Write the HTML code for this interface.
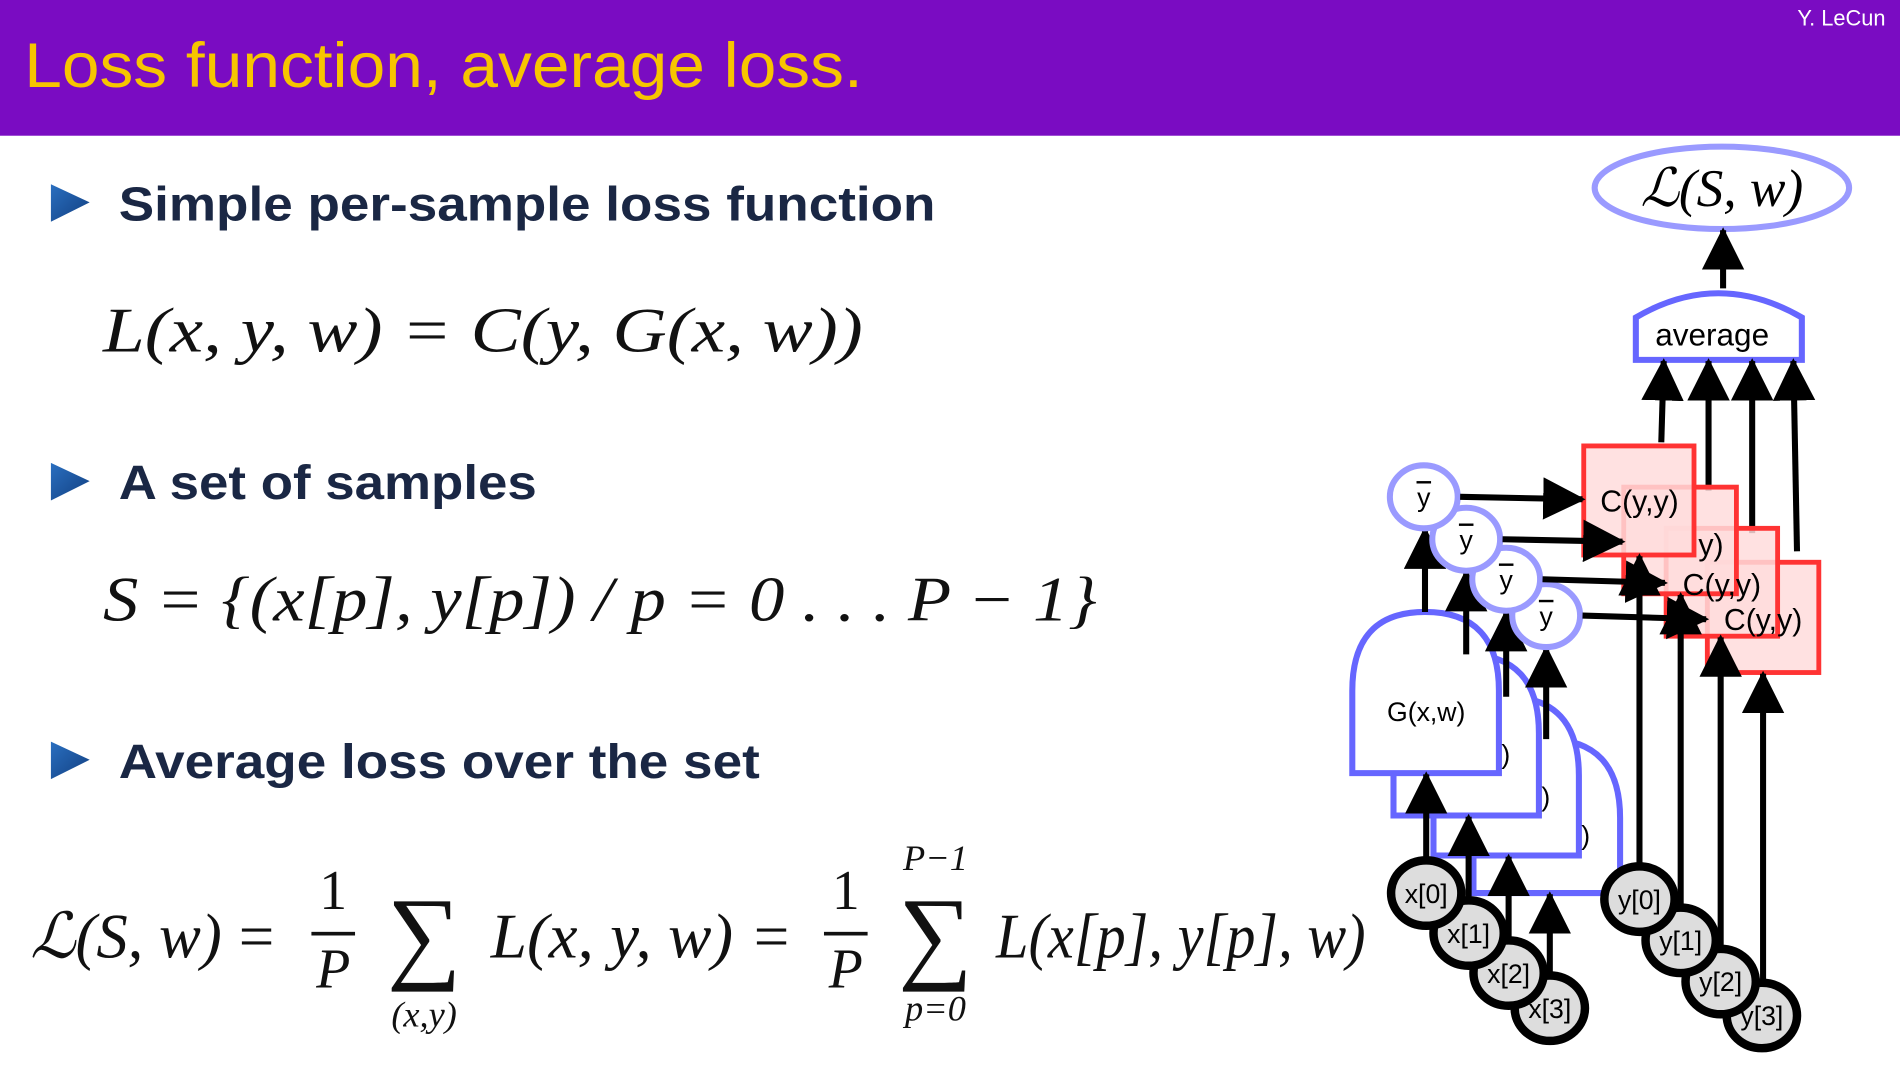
<!DOCTYPE html>
<html><head><meta charset="utf-8"><style>html,body{margin:0;padding:0;background:#fff}svg{display:block}</style></head>
<body>
<svg width="1900" height="1070" viewBox="0 0 1568 883" preserveAspectRatio="none" xmlns="http://www.w3.org/2000/svg">
<defs>
<marker id="ah" markerWidth="7" markerHeight="7" refX="6.5" refY="3.5" orient="auto" markerUnits="strokeWidth"><path d="M0,0 L7,3.5 L0,7 z" fill="#000"/></marker>
<linearGradient id="tg" x1="0" y1="0" x2="1" y2="1"><stop offset="0" stop-color="#2a6fc0"/><stop offset="1" stop-color="#123f80"/></linearGradient>
</defs>
<rect x="0" y="0" width="1568" height="112" fill="#7a0cc2"/>
<text x="20" y="72" font-family="Liberation Sans, sans-serif" font-size="52" fill="#f7c500" textLength="692" lengthAdjust="spacingAndGlyphs">Loss function, average loss.</text>
<text x="1556" y="21" text-anchor="end" font-family="Liberation Sans, sans-serif" font-size="18" fill="#fff">Y. LeCun</text>

<g font-family="Liberation Sans, sans-serif" font-weight="bold" font-size="40" fill="#1a2744">
<path d="M42,152 L74,167 L42,183 z" fill="url(#tg)"/>
<text x="98" y="182" textLength="674" lengthAdjust="spacingAndGlyphs">Simple per-sample loss function</text>
<path d="M42,382 L74,397 L42,413 z" fill="url(#tg)"/>
<text x="98" y="412" textLength="345" lengthAdjust="spacingAndGlyphs">A set of samples</text>
<path d="M42,612 L74,627 L42,643 z" fill="url(#tg)"/>
<text x="98" y="642" textLength="529" lengthAdjust="spacingAndGlyphs">Average loss over the set</text>
</g>

<g font-family="Liberation Serif, DejaVu Serif, serif" font-style="italic" fill="#111">
<text x="85" y="290" font-size="52" textLength="627" lengthAdjust="spacingAndGlyphs">L(x, y, w) = C(y, G(x, w))</text>
<text x="85" y="512" font-size="52" textLength="820" lengthAdjust="spacingAndGlyphs">S = {(x[p], y[p]) / p = 0 . . . P − 1}</text>
<text x="25" y="790" font-size="52" textLength="158" lengthAdjust="spacingAndGlyphs">ℒ(S, w)</text>
<text x="197" y="790" font-size="52" font-style="normal">=</text>
<text x="275" y="750" font-size="46" text-anchor="middle" font-style="normal">1</text>
<rect x="257" y="769" width="36" height="3"/>
<text x="275" y="815" font-size="46" text-anchor="middle">P</text>
<text x="350" y="800" font-size="86" text-anchor="middle" font-style="normal">∑</text>
<text x="350" y="847" font-size="30" text-anchor="middle">(x,y)</text>
<text x="405" y="790" font-size="52" textLength="200" lengthAdjust="spacingAndGlyphs">L(x, y, w)</text>
<text x="622" y="790" font-size="52" font-style="normal">=</text>
<text x="698" y="750" font-size="46" text-anchor="middle" font-style="normal">1</text>
<rect x="680" y="769" width="36" height="3"/>
<text x="698" y="815" font-size="46" text-anchor="middle">P</text>
<text x="772" y="800" font-size="86" text-anchor="middle" font-style="normal">∑</text>
<text x="772" y="718" font-size="30" text-anchor="middle">P−1</text>
<text x="772" y="842" font-size="30" text-anchor="middle">p=0</text>
<text x="822" y="790" font-size="52" textLength="305" lengthAdjust="spacingAndGlyphs">L(x[p], y[p], w)</text>
</g>

<!-- diagram -->
<g font-family="Liberation Sans, sans-serif" fill="#000">
<ellipse cx="1421" cy="155" rx="105" ry="34" fill="#fff" stroke="#9a9aff" stroke-width="5"/>
<text x="1421" y="170" text-anchor="middle" font-family="Liberation Serif, serif" font-style="italic" font-size="44">ℒ(S, w)</text>
<line x1="1422" y1="238" x2="1422" y2="190" stroke="#000" stroke-width="5" marker-end="url(#ah)"/>
<path d="M1350,297 L1350,262 Q1418,222 1487,262 L1487,297 Z" fill="#fff" stroke="#6666ff" stroke-width="5"/>
<text x="1413" y="285" text-anchor="middle" font-size="26">average</text>
<g stroke="#000" stroke-width="5" marker-end="url(#ah)">
<line x1="1371" y1="365" x2="1373" y2="298"/>
<line x1="1410" y1="405" x2="1410" y2="298"/>
<line x1="1446" y1="440" x2="1446" y2="298"/>
<line x1="1483" y1="455" x2="1480" y2="298"/>
</g>
<!-- G shapes back to front -->
<g fill="#fff" stroke="#6666ff" stroke-width="5">
<path d="M1216,737 L1216,675 Q1216,610 1276,610 Q1337,610 1337,675 L1337,737 Z"/>
<path d="M1183,706 L1183,640 Q1183,575 1243,575 Q1303,575 1303,640 L1303,706 Z"/>
<path d="M1150,673 L1150,605 Q1150,540 1210,540 Q1270,540 1270,605 L1270,673 Z"/>
<path d="M1116,638 L1116,570 Q1116,505 1176,505 Q1237,505 1237,570 L1237,638 Z"/>
</g>
<text x="1177" y="595" text-anchor="middle" font-size="22">G(x,w)</text>
<text x="1239" y="630" font-size="22">)</text>
<text x="1272" y="665" font-size="22">)</text>
<text x="1305" y="697" font-size="22">)</text>
<!-- arrows G -> ybar -->
<g stroke="#000" stroke-width="5" marker-end="url(#ah)">
<line x1="1176" y1="505" x2="1176" y2="437"/>
<line x1="1210" y1="540" x2="1210" y2="472"/>
<line x1="1243" y1="575" x2="1243" y2="505"/>
<line x1="1276" y1="610" x2="1276" y2="535"/>
</g>
<!-- C boxes back to front -->
<g fill="#ffdcdc" fill-opacity="0.85" stroke="#ff3333" stroke-width="4">
<rect x="1409" y="464" width="92" height="91"/>
<rect x="1375" y="436" width="92" height="89"/>
<rect x="1340" y="402" width="93" height="88"/>
<rect x="1307" y="368" width="91" height="90"/>
</g>
<g font-size="25">
<text x="1455" y="520" text-anchor="middle">C(y,y)</text>
<text x="1421" y="491" text-anchor="middle">C(y,y)</text>
<text x="1412" y="458" text-anchor="middle">y)</text>
<text x="1353" y="422" text-anchor="middle">C(y,y)</text>
</g>
<!-- ybar circles back to front -->
<g fill="#fff" stroke="#9a9aff" stroke-width="5">
<ellipse cx="1276" cy="508" rx="28" ry="26"/>
<ellipse cx="1243" cy="478" rx="28" ry="26"/>
<ellipse cx="1210" cy="445" rx="28" ry="26"/>
<ellipse cx="1175" cy="410" rx="28" ry="26"/>
</g>
<g font-size="22" text-anchor="middle">
<text x="1175" y="418">y</text><text x="1210" y="453">y</text><text x="1243" y="486">y</text><text x="1276" y="516">y</text>
</g>
<g stroke="#000" stroke-width="2">
<line x1="1169" y1="398" x2="1181" y2="398"/><line x1="1204" y1="433" x2="1216" y2="433"/><line x1="1237" y1="466" x2="1249" y2="466"/><line x1="1270" y1="496" x2="1282" y2="496"/>
</g>
<g stroke="#000" stroke-width="5" marker-end="url(#ah)">
<line x1="1205" y1="410" x2="1306" y2="412"/>
<line x1="1240" y1="445" x2="1339" y2="447"/>
<line x1="1273" y1="478" x2="1374" y2="481"/>
<line x1="1306" y1="508" x2="1408" y2="511"/>
</g>
<!-- x circles and arrows -->
<g stroke="#000" stroke-width="5" marker-end="url(#ah)">
<line x1="1177" y1="710" x2="1177" y2="639"/>
<line x1="1212" y1="745" x2="1212" y2="674"/>
<line x1="1245" y1="778" x2="1245" y2="707"/>
<line x1="1279" y1="806" x2="1279" y2="738"/>
<line x1="1353" y1="715" x2="1353" y2="459"/>
<line x1="1387" y1="750" x2="1387" y2="491"/>
<line x1="1420" y1="784" x2="1420" y2="526"/>
<line x1="1455" y1="812" x2="1455" y2="556"/>
</g>
<g fill="#dddddd" stroke="#000" stroke-width="7">
<ellipse cx="1279" cy="832" rx="29" ry="27"/>
<ellipse cx="1245" cy="803" rx="29" ry="27"/>
<ellipse cx="1212" cy="770" rx="29" ry="27"/>
<ellipse cx="1177" cy="737" rx="29" ry="27"/>
<ellipse cx="1454" cy="838" rx="29" ry="27"/>
<ellipse cx="1420" cy="810" rx="29" ry="27"/>
<ellipse cx="1387" cy="776" rx="29" ry="27"/>
<ellipse cx="1353" cy="742" rx="29" ry="27"/>
</g>
<g font-size="22" text-anchor="middle">
<text x="1177" y="745">x[0]</text><text x="1212" y="778">x[1]</text><text x="1245" y="811">x[2]</text><text x="1279" y="840">x[3]</text>
<text x="1353" y="750">y[0]</text><text x="1387" y="784">y[1]</text><text x="1420" y="818">y[2]</text><text x="1454" y="846">y[3]</text>
</g>
</g>
</svg>
</body></html>
